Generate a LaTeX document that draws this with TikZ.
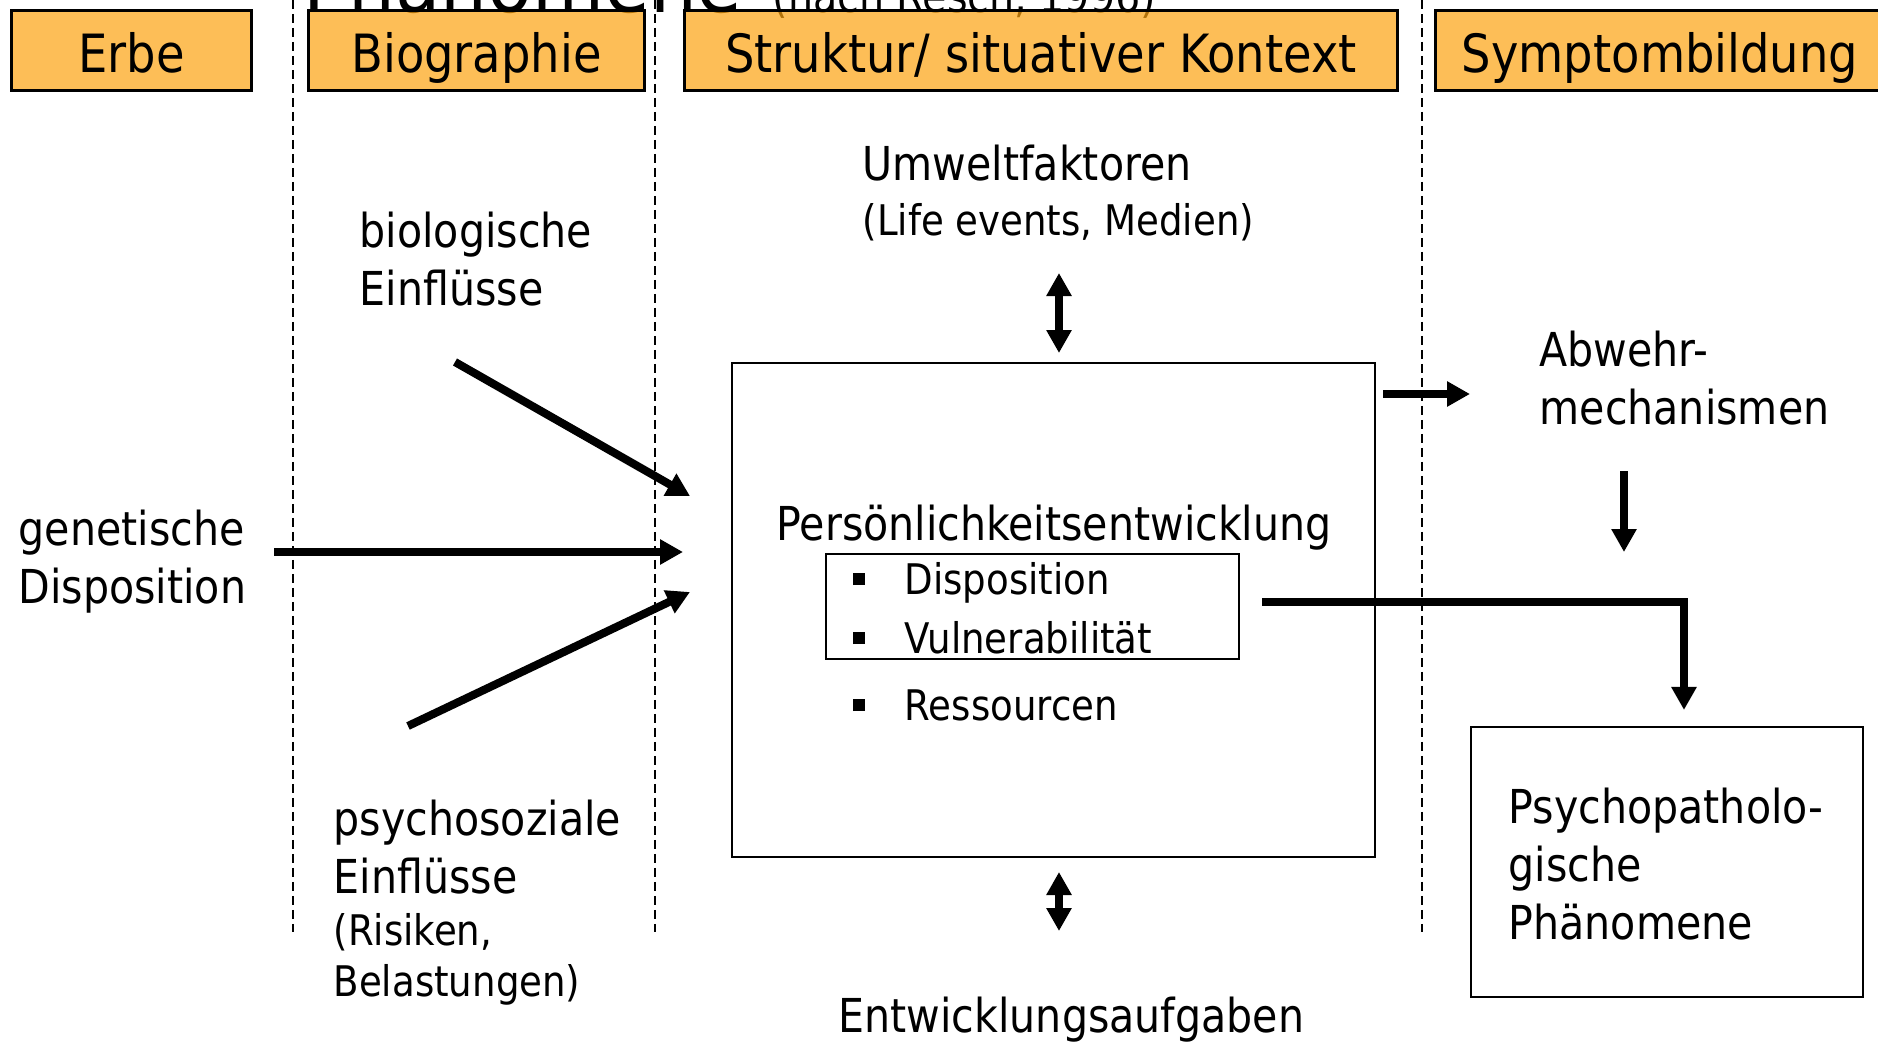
\documentclass[tikz,border=0pt]{standalone}
\usepackage{fontspec}
\setmainfont{DejaVu Sans}[FakeStretch=0.88]
\usetikzlibrary{arrows.meta}
\definecolor{kopforange}{RGB}{252,162,15}
\newcommand{\sqbul}{\rule[0.09cm]{0.12cm}{0.12cm}\hspace{0.40cm}}

\begin{document}
\begin{tikzpicture}[scale=1.0,>={Triangle[length=0.23cm,width=0.24cm]},
  kopf/.style={draw,line width=0.9pt,fill=kopforange,fill opacity=0.7,text opacity=1,
    minimum height=0.80cm,text height=0.45cm,text depth=0pt,font=\fontsize{15}{18}\selectfont},
  txt/.style={inner sep=0pt,align=left,font=\fontsize{13.3}{16.5}\selectfont},
  klein/.style={inner sep=0pt,align=left,font=\fontsize{12}{14.5}\selectfont},
  kasten/.style={draw,line width=0.6pt,inner sep=0pt},
  pfeil/.style={->,line width=2.3pt},
  doppel/.style={<->,line width=2.3pt}]
  \useasboundingbox (0,0) rectangle (18.78,10.41);
  \clip (0,0) rectangle (18.78,10.41);
  % Titel, oben abgeschnitten
  \node[anchor=base east,inner sep=0pt,font=\fontsize{23.9}{28}\selectfont] (titel) at (7.43,10.29) {Phänomene};
  \node[anchor=base west,inner sep=0pt,font=\fontsize{12.8}{15}\selectfont] (quelle) at (7.72,10.29) {(nach Resch, 1996)};
  % Spaltentrenner
  \foreach \x in {2.93,6.55,14.22} {\draw[dash pattern=on 0.09cm off 0.05cm,line width=0.5pt] (\x,10.41) -- (\x,1.09);}
  % Kopfzeile
  \node[kopf,minimum width=2.40cm] (erbe) at (1.315,9.905) {Erbe};
  \node[kopf,minimum width=3.36cm] (bio) at (4.765,9.905) {Biographie};
  \node[kopf,minimum width=7.13cm] (struk) at (10.41,9.905) {Struktur/ situativer Kontext};
  \node[kopf,minimum width=4.49cm] (sympt) at (16.60,9.905) {Symptombildung};
  % linke Seite
  \node[txt,anchor=north west] (biol) at (3.59,8.30) {biologische\\Einflüsse};
  \node[txt,anchor=north west] (genet) at (0.18,5.32) {genetische\\Disposition};
  \node[txt,anchor=north west] (psysoz) at (3.33,2.42) {psychosoziale\\Einflüsse};
  \node[klein,anchor=north west] (risiko) at (3.33,1.28) {(Risiken,\\Belastungen)};
  % Mitte
  \node[txt,anchor=base west] (umwelt) at (8.62,8.60) {Umweltfaktoren};
  \node[klein,anchor=base west] (life) at (8.62,8.06) {(Life events, Medien)};
  \node[kasten,minimum width=6.43cm,minimum height=4.94cm] (pers) at (10.535,4.31) {};
  \node[txt,anchor=base] (perstitel) at (10.54,5.01) {Persönlichkeitsentwicklung};
  \node[kasten,minimum width=4.13cm,minimum height=1.05cm] (disp) at (10.325,4.345) {};
  \node[klein,anchor=base west] (item1) at (8.52,4.47) {\sqbul Disposition};
  \node[klein,anchor=base west] (item2) at (8.52,3.88) {\sqbul Vulnerabilität};
  \node[klein,anchor=base west] (item3) at (8.52,3.21) {\sqbul Ressourcen};
  \node[txt,anchor=base west] (aufgab) at (8.38,0.09) {Entwicklungsaufgaben};
  % rechte Seite
  \node[txt,anchor=north west] (abwehr) at (15.39,7.11) {Abwehr-\\mechanismen};
  \node[kasten,minimum width=3.92cm,minimum height=2.70cm] (psych) at (16.67,1.79) {};
  \node[txt,anchor=north west] (psychtxt) at (15.08,2.535) {Psychopatholo-\\gische\\Phänomene};
  % Pfeilenden
  \coordinate (biolA) at (4.55,6.79);
  \coordinate (biolB) at (6.90,5.45);
  \coordinate (genetA) at (2.74,4.89);
  \coordinate (genetB) at (6.83,4.89);
  \coordinate (psysozA) at (4.08,3.15);
  \coordinate (psysozB) at (6.90,4.49);
  \coordinate (umweltA) at (10.59,7.68);
  \coordinate (umweltB) at (10.59,6.88);
  \coordinate (aufgabA) at (10.59,1.69);
  \coordinate (aufgabB) at (10.59,1.10);
  \coordinate (abwehrA) at (13.83,6.47);
  \coordinate (abwehrB) at (14.70,6.47);
  \coordinate (abwehrC) at (16.24,5.70);
  \coordinate (abwehrD) at (16.24,4.89);
  % Pfeile
  \draw[pfeil] (biolA) -- (biolB);
  \draw[pfeil] (genetA) -- (genetB);
  \draw[pfeil] (psysozA) -- (psysozB);
  \draw[doppel] (umweltA) -- (umweltB);
  \draw[doppel] (aufgabA) -- (aufgabB);
  \draw[pfeil] (abwehrA) -- (abwehrB);
  \draw[pfeil] (abwehrC) -- (abwehrD);
  \draw[pfeil,shorten >=0.16cm] ([xshift=0.22cm,yshift=0.045cm]disp.east) -| ([xshift=0.17cm]psych.north);
\end{tikzpicture}
\end{document}
